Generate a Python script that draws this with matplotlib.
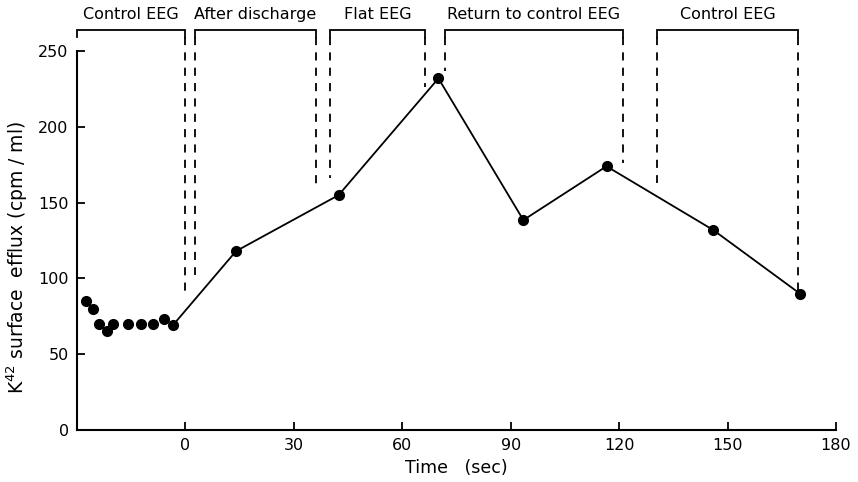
import matplotlib
matplotlib.use("Agg")
import matplotlib.pyplot as plt

# Pre-stimulus control points (not connected)
ctrl_t = [-27.6, -25.6, -23.8, -21.8, -20.0, -15.8, -12.2, -9.1, -5.9]
ctrl_v = [85, 80, 70, 65, 70, 70, 70, 70, 73]
# Connected series
line_t = [-3.5, 14, 42.4, 70, 93.5, 116.5, 146, 170]
line_v = [69, 118, 155, 232, 138.5, 174, 132, 90]

# Periods (brackets) along the top
period_labels = ["Control EEG", "After discharge", "Flat EEG",
                 "Return to control EEG", "Control EEG"]
period_start = [-30, 2.6, 40, 71.7, 130.5]
period_end = [0, 36.2, 66.4, 121, 169.6]
# lower ends of dashed lines (left side, right side), in data units
dash_low_left = [None, 102, 166, 237, 163]
dash_low_right = [89, 161, 226, 176, 92]

xticks = [0, 30, 60, 90, 120, 150, 180]
yticks = [0, 50, 100, 150, 200, 250]

plt.rcParams['font.family'] = ['DejaVu Sans']
fig = plt.figure(figsize=(8.58, 4.82), dpi=100)
ax = fig.add_axes([0.0897, 0.1079, 0.8847, 0.7861])

ax.plot(ctrl_t, ctrl_v, 'o', color='black', markersize=7, linestyle='none')
ax.plot(line_t, line_v, '-o', color='black', markersize=7, linewidth=1.3)

top = 264
tick_len = 5
for lab, s, e, dl, dr in zip(period_labels, period_start, period_end,
                             dash_low_left, dash_low_right):
    ax.plot([s, s, e, e], [top - tick_len, top, top, top - tick_len],
            color='black', linewidth=1.3, clip_on=False, solid_joinstyle='miter')
    if dl is not None:
        ax.plot([s, s], [top - tick_len, dl], color='black', linewidth=1.3,
                linestyle=(0, (4.5, 4)), clip_on=False)
    ax.plot([e, e], [top - tick_len, dr], color='black', linewidth=1.3,
            linestyle=(0, (4.5, 4)), clip_on=False)
    ax.text((s + e) / 2, 274, lab, ha='center', va='center', fontsize=11.5,
            clip_on=False)

ax.set_xlim(-30, 180)
ax.set_ylim(0, 250)
ax.set_xticks(xticks)
ax.set_yticks(yticks)
ax.spines['top'].set_visible(False)
ax.spines['right'].set_visible(False)
for sp in ['left', 'bottom']:
    ax.spines[sp].set_linewidth(1.5)
ax.tick_params(direction='in', length=6, width=1.3, labelsize=11.5, pad=6)
ax.set_xlabel("Time   (sec)", fontsize=12.5, labelpad=4)
ax.set_ylabel("K$^{42}$ surface  efflux (cpm / ml)", fontsize=13.5)
ax.yaxis.set_label_coords(-0.062, 0.455)

fig.savefig("out.png", dpi=100)
